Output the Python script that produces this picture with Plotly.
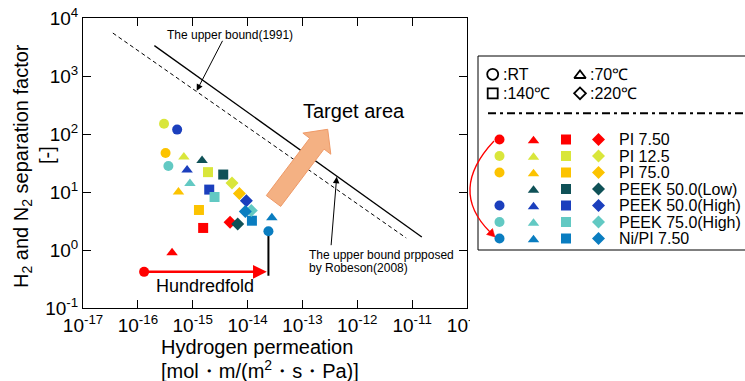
import math
import plotly.graph_objects as go

# ---------------- data ----------------
series_names = ["PI 7.50", "PI 12.5", "PI 75.0", "PEEK 50.0(Low)",
                "PEEK 50.0(High)", "PEEK 75.0(High)", "Ni/PI 7.50"]
series_colors = ["#ff0000", "#d9e63b", "#fcc300", "#0f5157",
                 "#1b3fbd", "#62c9c3", "#0a7dc0"]

temp_labels = [":RT", ":70℃", ":140℃", ":220℃"]
temp_symbols = ["circle", "triangle-up", "square", "diamond"]

# hydrogen permeation [mol m/(m2 s Pa)] and H2/N2 separation factor [-]
perm_rt = [1.3e-16, 3.0e-16, 3.2e-16, None, 5.2e-16, 3.6e-16, 2.4e-14]
sep_rt = [0.42, 150, 47, None, 119, 28, 2.1]
perm_70 = [4.2e-16, 6.9e-16, 5.5e-16, 1.48e-15, 7.9e-16, 8.9e-16, 2.77e-14]
sep_70 = [0.9, 40, 10, 35, 24, 14, 3.6]
perm_140 = [1.55e-15, 1.9e-15, 1.3e-15, 3.6e-15, 2.0e-15, 2.5e-15, 1.2e-14]
sep_140 = [2.4, 22, 4.9, 20, 11, 8.2, 3.2]
perm_220 = [4.8e-15, 5.2e-15, 7.1e-15, 6.6e-15, 9.5e-15, 1.17e-14, 9.1e-15]
sep_220 = [3.0, 14.3, 9.4, 2.8, 7.1, 4.8, 4.6]

# upper bound lines
ub1991_perm = [2.0e-16, 1.5e-11]
ub1991_sep = [3340, 1.68]
ub2008_perm = [3.5e-17, 7.8e-12]
ub2008_sep = [5500, 1.61]

hundredfold_base = 0.36

x_exponents = list(range(-17, -9))
y_exponents = list(range(-1, 5))

# ---------------- layout helpers ----------------
X0, X1, Y0, Y1 = 83, 745, 18, 308
W, H = X1 - X0, Y1 - Y0
PLOT_RIGHT = 467


def px(x):
    return (x - X0) / W


def py(y):
    return 1 - (y - Y0) / H


FONT = "Liberation Sans, Arial, sans-serif"


def text_ann(x, y, text, size, xanchor="center", angle=0):
    return dict(x=px(x), y=py(y), xref="paper", yref="paper", text=text,
                showarrow=False, xanchor=xanchor, yanchor="middle", textangle=angle,
                font=dict(family=FONT, size=size, color="black"))


fig = go.Figure()

# upper bound lines
fig.add_trace(go.Scatter(x=ub2008_perm, y=ub2008_sep, mode="lines",
                         line=dict(color="black", width=1, dash="4px,3px"),
                         showlegend=False, hoverinfo="skip"))
fig.add_trace(go.Scatter(x=ub1991_perm, y=ub1991_sep, mode="lines",
                         line=dict(color="black", width=1.3),
                         showlegend=False, hoverinfo="skip"))

# black vertical line under Ni/PI RT point
fig.add_trace(go.Scatter(x=[perm_rt[6], perm_rt[6]], y=[hundredfold_base, sep_rt[6]],
                         mode="lines", line=dict(color="black", width=2),
                         showlegend=False, hoverinfo="skip"))

all_perm = [perm_rt, perm_70, perm_140, perm_220]
all_sep = [sep_rt, sep_70, sep_140, sep_220]
for t in range(4):
    for s in range(len(series_names)):
        if all_perm[t][s] is None:
            continue
        fig.add_trace(go.Scatter(
            x=[all_perm[t][s]], y=[all_sep[t][s]], mode="markers",
            marker=dict(symbol=temp_symbols[t], size=10, color=series_colors[s],
                        line=dict(width=0)),
            showlegend=False, name=series_names[s]))

# ---------------- custom legend (x2/y2 in pixel units) ----------------
leg_cols = [499.5, 533.5, 566, 598.5]
leg_row0, leg_dy = 139.5, 16.5
for s in range(len(series_names)):
    yrow = leg_row0 + s * leg_dy
    for t in range(4):
        if all_perm[t][s] is None:
            continue
        yy = yrow + (1.2 if temp_symbols[t] == "triangle-up" else 0)
        fig.add_trace(go.Scatter(
            x=[leg_cols[t]], y=[yy], xaxis="x2", yaxis="y2", mode="markers",
            marker=dict(symbol=temp_symbols[t], size=10, color=series_colors[s],
                        line=dict(width=0)),
            showlegend=False, hoverinfo="skip"))

hdr_pos = [(492.7, 74.3), (580, 75.5), (492.7, 93.3), (580, 93.3)]
hdr_sizes = [11, 10, 10, 9]
for t in range(4):
    fig.add_trace(go.Scatter(
        x=[hdr_pos[t][0]], y=[hdr_pos[t][1]], xaxis="x2", yaxis="y2", mode="markers",
        marker=dict(symbol=temp_symbols[t] + "-open", size=hdr_sizes[t], color="black",
                    line=dict(width=1.8, color="black")),
        showlegend=False, hoverinfo="skip"))

annotations = []
for t in range(4):
    annotations.append(text_ann(hdr_pos[t][0] + 8, hdr_pos[t][1] - (1.2 if t == 1 else 0),
                                temp_labels[t], 16, xanchor="left"))
for s in range(len(series_names)):
    annotations.append(text_ann(617, leg_row0 + s * leg_dy, series_names[s], 16,
                                xanchor="left"))

# axis titles
annotations += [
    text_ann(257, 346.5, "Hydrogen permeation", 20),
    text_ann(260, 369, "[mol・m/(m<sup>2</sup>・s・Pa)]", 20),
    text_ann(22, 166, "H<sub>2</sub> and N<sub>2</sub> separation factor", 20, angle=-90),
    text_ann(47, 155, "[-]", 20, angle=-90),
]

# texts in plot
annotations += [
    text_ann(354, 111, "Target area", 20),
    text_ann(205, 286, "Hundredfold", 18),
    text_ann(229.5, 34.7, "The upper bound(1991)", 12),
    text_ann(306.5, 255.3, "The upper bound prpposed", 12, xanchor="left"),
    text_ann(306.5, 268, "by Robeson(2008)", 12, xanchor="left"),
    # label arrows
    dict(x=px(196.7), y=py(90.7), xref="paper", yref="paper", text="",
         showarrow=True, ax=223.3 - 196.7, ay=39.3 - 90.7, arrowhead=2, arrowsize=1.3,
         arrowwidth=1, arrowcolor="black", standoff=0, startstandoff=0),
    dict(x=px(336.7), y=py(176.7), xref="paper", yref="paper", text="",
         showarrow=True, ax=331 - 336.7, ay=246.7 - 176.7, arrowhead=2, arrowsize=1.3,
         arrowwidth=1, arrowcolor="black", standoff=0, startstandoff=0),
    # hundredfold arrow
    dict(x=math.log10(perm_rt[6]) - 0.03, y=math.log10(sep_rt[0]), xref="x", yref="y",
         ax=math.log10(perm_rt[0]), ay=math.log10(sep_rt[0]), axref="x", ayref="y",
         text="", showarrow=True, arrowhead=2, arrowsize=1.1, arrowwidth=2.5,
         arrowcolor="#ff0000", standoff=0, startstandoff=0),
]

# ---------------- shapes ----------------
shapes = []
# legend box
shapes.append(dict(type="rect", xref="paper", yref="paper", x0=px(478), x1=px(752),
                   y0=py(250), y1=py(56), line=dict(color="black", width=1),
                   fillcolor="white", layer="below"))
# cover for the clipped tick label
shapes.append(dict(type="rect", xref="paper", yref="paper", x0=px(470), x1=px(505),
                   y0=py(340), y1=py(309), line=dict(width=0), fillcolor="white",
                   layer="above"))
# dash-dot divider
shapes.append(dict(type="line", xref="paper", yref="paper", x0=px(488), x1=px(745),
                   y0=py(113.3), y1=py(113.3),
                   line=dict(color="black", width=2, dash="8px,4px,3px,4px")))
# red curved arrow in legend
shapes.append(dict(type="path", xref="paper", yref="paper",
                   path=f"M {px(494)},{py(141)} Q {px(448)},{py(190)} {px(490)},{py(232)}",
                   line=dict(color="#ff0000", width=1.3)))
shapes.append(dict(type="path", xref="paper", yref="paper",
                   path=(f"M {px(495)},{py(237)} L {px(492.5)},{py(228.5)} "
                         f"L {px(486.5)},{py(234.5)} Z"),
                   fillcolor="#ff0000", line=dict(color="#ff0000", width=0.5)))

# big "Target area" arrow
T = (273.5, 201.0)
P = (327.7, 129.3)
dx, dy = P[0] - T[0], P[1] - T[1]
L = math.hypot(dx, dy)
u = (dx / L, dy / L)
n = (-u[1], u[0])
hl, sw, hw = 18.0, 9.0, 17.5
B = (P[0] - hl * u[0], P[1] - hl * u[1])
pts = [
    (T[0] - sw * n[0], T[1] - sw * n[1]),
    (B[0] - sw * n[0], B[1] - sw * n[1]),
    (B[0] - hw * n[0], B[1] - hw * n[1]),
    P,
    (B[0] + hw * n[0], B[1] + hw * n[1]),
    (B[0] + sw * n[0], B[1] + sw * n[1]),
    (T[0] + sw * n[0], T[1] + sw * n[1]),
]
path = "M " + " L ".join(f"{px(a)},{py(b)}" for a, b in pts) + " Z"
shapes.append(dict(type="path", xref="paper", yref="paper", path=path,
                   fillcolor="#f4b183", line=dict(color="#ef9a68", width=1), layer="above"))

axis_common = dict(type="log", ticks="inside", ticklen=8, tickwidth=1, tickcolor="black",
                   showline=True, linecolor="black", linewidth=1, mirror="ticks",
                   showgrid=False, zeroline=False,
                   tickfont=dict(family=FONT, size=19, color="black"))

fig.update_layout(
    width=745, height=381,
    margin=dict(l=X0, r=0, t=Y0, b=381 - Y1, pad=0, autoexpand=False),
    paper_bgcolor="white", plot_bgcolor="rgba(0,0,0,0)",
    showlegend=False,
    xaxis=dict(domain=[0, (PLOT_RIGHT - X0) / W], range=[-17, -10],
               tickvals=[10 ** k for k in x_exponents],
               ticktext=[f"10<sup>{k}</sup>" for k in x_exponents], **axis_common),
    yaxis=dict(domain=[0, 1], range=[-1, 4],
               tickvals=[10 ** k for k in y_exponents],
               ticktext=[f"10<sup>{k}</sup>" for k in y_exponents], **axis_common),
    xaxis2=dict(domain=[0, 1], range=[X0, X1], visible=False, anchor="y2"),
    yaxis2=dict(domain=[0, 1], range=[Y1, Y0], visible=False, anchor="x2"),
    annotations=annotations,
    shapes=shapes,
)

fig.write_html("out.html")
